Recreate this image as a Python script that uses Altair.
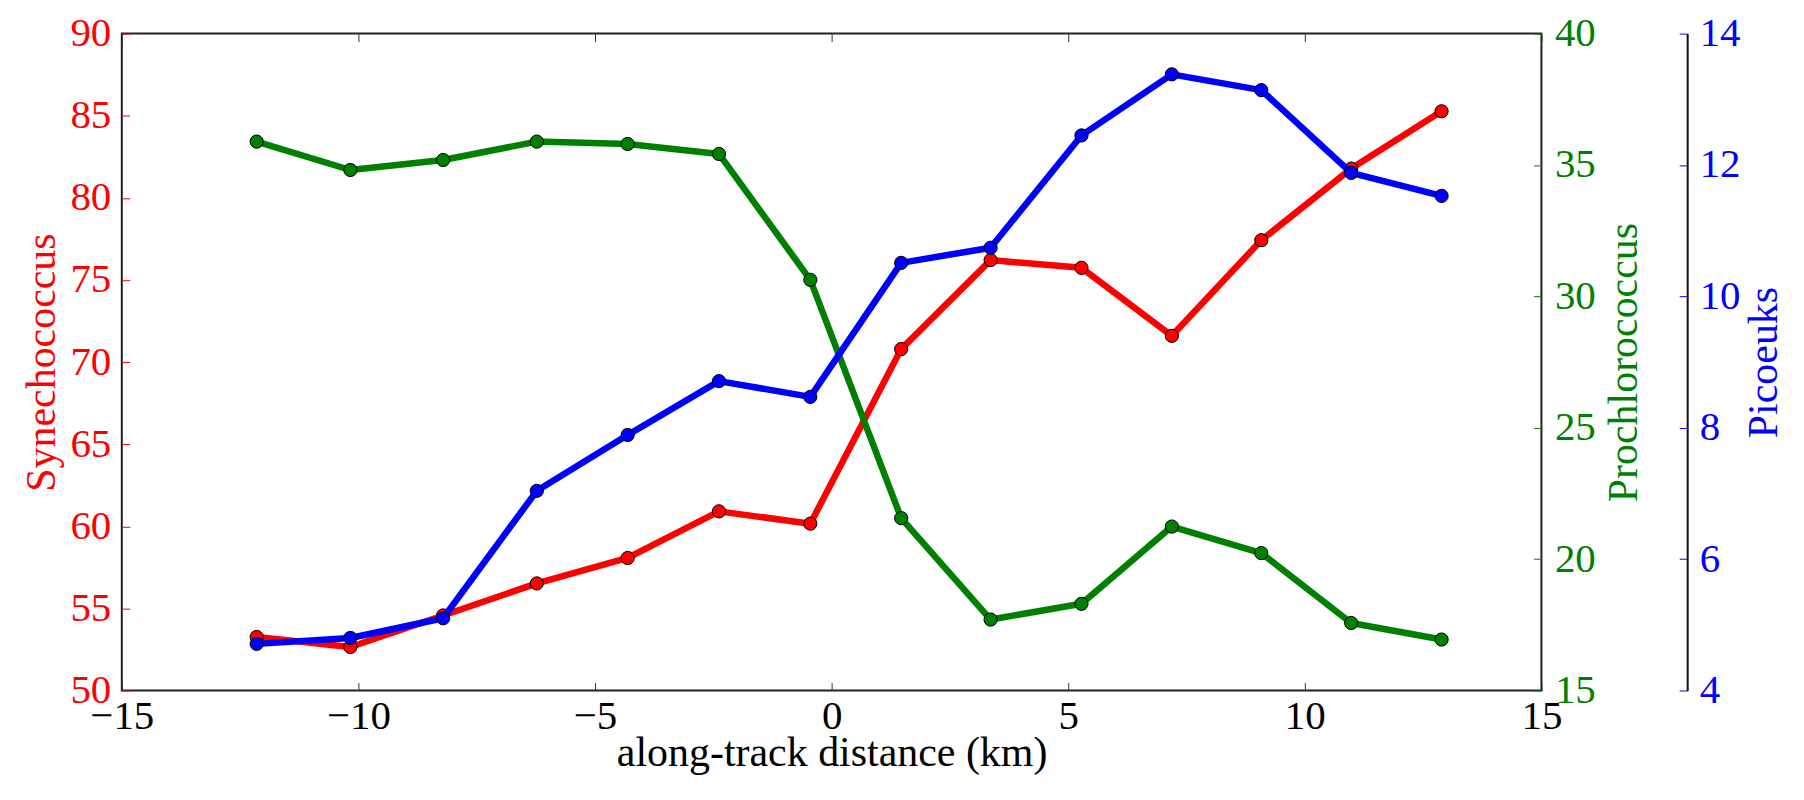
import altair as alt
import pandas as pd

# ---- data ----
distance_km = [-12.15, -10.17, -8.21, -6.23, -4.31, -2.38, -0.45, 1.47, 3.36, 5.28, 7.19, 9.08, 10.98, 12.89]
synechococcus = [53.26, 52.65, 54.57, 56.52, 58.07, 60.91, 60.16, 70.79, 76.21, 75.74, 71.60, 77.42, 81.78, 85.27]
prochlorococcus = [35.89, 34.81, 35.19, 35.89, 35.80, 35.42, 30.63, 21.56, 17.70, 18.30, 21.24, 20.23, 17.57, 16.94]
picoeuks = [4.71, 4.80, 5.10, 7.04, 7.89, 8.71, 8.47, 10.51, 10.74, 12.45, 13.38, 13.14, 11.88, 11.53]

x_ticks = [-15, -10, -5, 0, 5, 10, 15]
syn_ticks = [50, 55, 60, 65, 70, 75, 80, 85, 90]
pro_ticks = [15, 20, 25, 30, 35, 40]
pic_ticks = [4, 6, 8, 10, 12, 14]

df = pd.DataFrame({"d": distance_km, "syn": synechococcus, "pro": prochlorococcus, "pic": picoeuks})

FONT = "Liberation Serif"
RED, GREEN, BLUE = "#ff0000", "#008000", "#0000ff"
LW = 6.5
MS = 175
TICK_F = 41
TITLE_F = 42

xscale = alt.Scale(domain=[-15, 15], nice=False, zero=False)
red_scale = alt.Scale(domain=[50, 90], nice=False, zero=False)
green_scale = alt.Scale(domain=[15, 40], nice=False, zero=False)
blue_scale = alt.Scale(domain=[4, 14], nice=False, zero=False)

x_bottom = alt.X("d:Q", scale=xscale, axis=alt.Axis(
    values=x_ticks, orient="bottom", offset=-8, domain=False, grid=False,
    tickSize=8, tickColor="#333333", tickWidth=1,
    labelPadding=6, labelFont=FONT, labelFontSize=TICK_F, labelColor="black",
    labelFlush=False, labelOverlap=False, labelBound=False,
    title="along-track distance (km)", titleFont=FONT, titleFontSize=TITLE_F,
    titleFontWeight="normal", titleColor="black", titlePadding=-4))
x_top = alt.X("d:Q", scale=xscale, axis=alt.Axis(
    values=x_ticks, orient="top", offset=-8, domain=False, grid=False,
    tickSize=8, tickColor="#333333", tickWidth=1, labels=False, title=None))
x_none = alt.X("d:Q", scale=xscale, axis=None)

red_axis = alt.Axis(
    values=syn_ticks, orient="left", offset=-8, domain=False, grid=False,
    tickSize=8, tickColor=RED, tickWidth=1,
    labelPadding=11, labelFont=FONT, labelFontSize=TICK_F, labelColor=RED,
    labelFlush=False, labelOverlap=False, labelBound=False,
    title="Synechococcus", titleFont=FONT, titleFontSize=TITLE_F,
    titleFontWeight="normal", titleColor=RED, titlePadding=6)
green_axis = alt.Axis(
    values=pro_ticks, orient="right", offset=-8, domain=False, grid=False,
    tickSize=8, tickColor=GREEN, tickWidth=1,
    labelPadding=13, labelFont=FONT, labelFontSize=TICK_F, labelColor=GREEN,
    labelFlush=False, labelOverlap=False, labelBound=False,
    title="Prochlorococcus", titleFont=FONT, titleFontSize=TITLE_F,
    titleFontWeight="normal", titleColor=GREEN, titlePadding=8,
    titleAngle=270, titleBaseline="top")
blue_axis = alt.Axis(
    values=pic_ticks, orient="right", offset=138, domain=False, grid=False,
    tickSize=8, tickColor=BLUE, tickWidth=1,
    labelPadding=12, labelFont=FONT, labelFontSize=TICK_F, labelColor=BLUE,
    labelFlush=False, labelOverlap=False, labelBound=False,
    title="Picoeuks", titleFont=FONT, titleFontSize=TITLE_F,
    titleFontWeight="normal", titleColor=BLUE, titlePadding=3,
    titleAngle=270, titleBaseline="top")
blue_spine = alt.Axis(
    orient="right", offset=146, domain=True, domainColor="#111111", domainWidth=2,
    grid=False, ticks=False, labels=False, title=None)


def line(field, color, scale, x_enc, y_axis):
    return alt.Chart(df).mark_line(color=color, strokeWidth=LW, strokeJoin="round").encode(
        x=x_enc, y=alt.Y(f"{field}:Q", scale=scale, axis=y_axis))


def points(field, color, scale, x_enc, y_axis):
    return alt.Chart(df).mark_point(filled=True, shape="circle", fill=color, size=MS, opacity=1,
                                    stroke="black", strokeWidth=1).encode(
        x=x_enc, y=alt.Y(f"{field}:Q", scale=scale, axis=y_axis))


layers = [
    line("syn", RED, red_scale, x_bottom, red_axis),
    points("syn", RED, red_scale, x_top, None),
    line("pro", GREEN, green_scale, x_none, green_axis),
    points("pro", GREEN, green_scale, x_none, None),
    line("pic", BLUE, blue_scale, x_none, blue_axis),
    points("pic", BLUE, blue_scale, x_none, blue_spine),
]

chart = alt.layer(*layers).resolve_scale(x="independent", y="independent").resolve_axis(
    x="independent", y="independent"
).properties(
    width=1422, height=658,
    autosize=alt.AutoSizeParams(type="none"),
    padding={"left": 114, "top": 25, "right": 255, "bottom": 100},
).configure_view(stroke="#222222", strokeWidth=2)

chart.save("out.html", embed_options={"renderer": "svg", "actions": False})
